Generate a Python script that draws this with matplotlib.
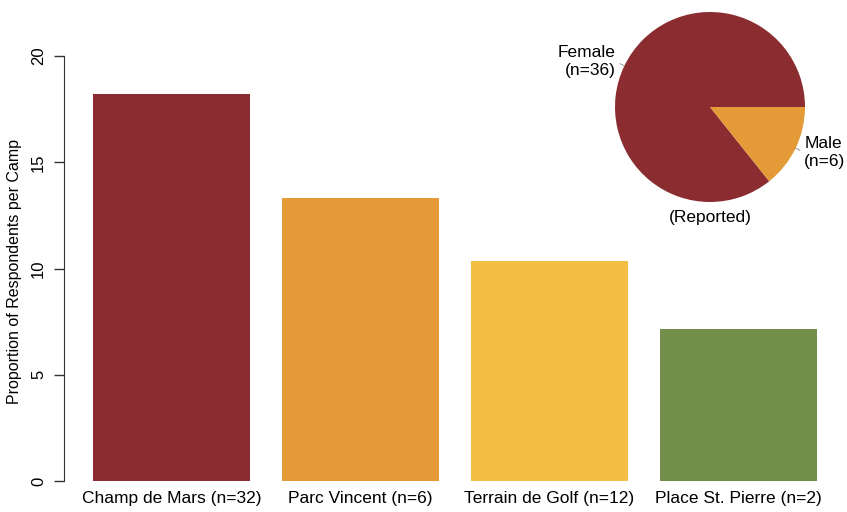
import matplotlib.pyplot as plt
import numpy as np

plt.rcParams['font.family'] = ['Liberation Sans', 'DejaVu Sans']

camps = ['Champ de Mars (n=32)', 'Parc Vincent (n=6)',
         'Terrain de Golf (n=12)', 'Place St. Pierre (n=2)']
proportions = [18.2, 13.3, 10.35, 7.15]
bar_colors = ['#8b2d30', '#e49a36', '#f4be45', '#748f4c']

gender_labels = ['Female\n(n=36)', 'Male\n(n=6)']
gender_counts = [36, 6]
pie_colors = ['#8b2d30', '#e49a36']

W, H = 847, 512
fig = plt.figure(figsize=(W / 100, H / 100), dpi=100)

# bar chart, R barplot style (width 1, space 0.2)
ax = fig.add_axes([64 / W, (H - 481) / H, (846 - 64) / W, (481 - 39) / H])
x = 0.2 + np.arange(len(camps)) * 1.2 + 0.5
ax.bar(x, proportions, width=1.0, color=bar_colors)
ax.set_xlim(0.016, 4.984)
ax.set_ylim(0, 20.8)
for s in ['top', 'right', 'bottom']:
    ax.spines[s].set_visible(False)
ax.spines['left'].set_bounds(0, 20)
ax.spines['left'].set_color('#333333')
ax.spines['left'].set_clip_on(False)
ax.set_yticks([0, 5, 10, 15, 20])
ax.set_yticklabels(['0', '5', '10', '15', '20'], rotation=90, va='center')
ax.tick_params(axis='y', length=7, width=1, color='#333333', labelsize=12, pad=6)
ax.set_xticks(x)
ax.set_xticklabels(camps)
ax.tick_params(axis='x', length=0, labelsize=12.5, pad=7)
ax.set_ylabel('Proportion of Respondents per Camp', fontsize=11.5, va='center')
ax.yaxis.set_label_coords(-0.063, 0.475)

# inset pie
pax = fig.add_axes([615 / W, (H - 202) / H, 190 / W, 190 / H])
pax.pie(gender_counts, colors=pie_colors, startangle=0, counterclock=True,
        labels=gender_labels, labeldistance=1.1,
        textprops={'fontsize': 12.5}, radius=1.0)
cum = np.cumsum([0] + gender_counts) / sum(gender_counts) * 360
for a0, a1 in zip(cum[:-1], cum[1:]):
    mid = np.deg2rad((a0 + a1) / 2)
    pax.plot([np.cos(mid), 1.05 * np.cos(mid)], [np.sin(mid), 1.05 * np.sin(mid)],
             color='#888888', lw=0.6)
pax.set_xlim(-1, 1)
pax.set_ylim(-1, 1)
pax.set_aspect('equal')
pax.text(0, -1.16, '(Reported)', ha='center', va='center', fontsize=12.5)

fig.savefig('out.png', dpi=100)
